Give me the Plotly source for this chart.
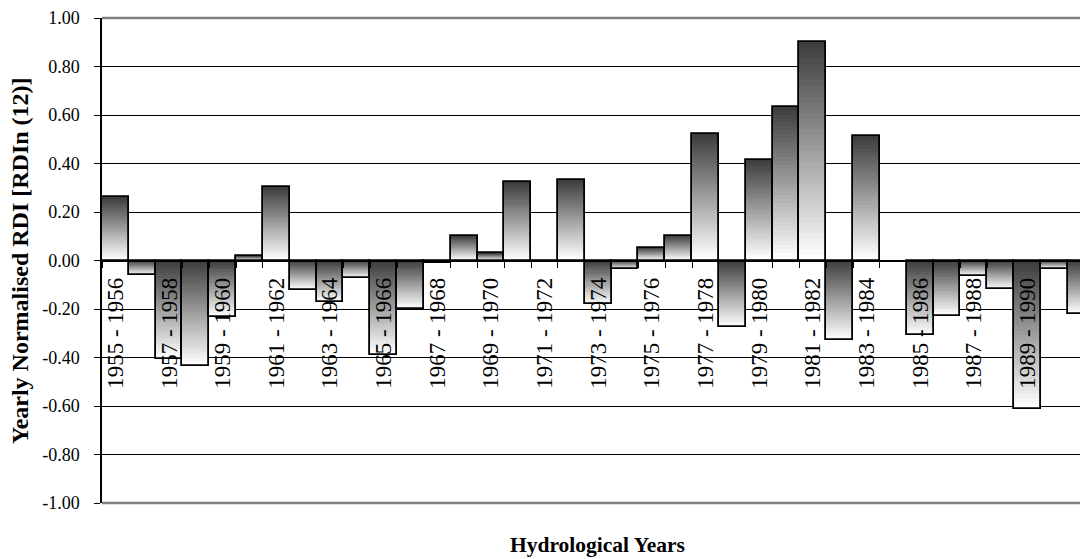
import plotly.graph_objects as go

years = ["1955 - 1956", "1956 - 1957", "1957 - 1958", "1958 - 1959", "1959 - 1960",
         "1960 - 1961", "1961 - 1962", "1962 - 1963", "1963 - 1964", "1964 - 1965",
         "1965 - 1966", "1966 - 1967", "1967 - 1968", "1968 - 1969", "1969 - 1970",
         "1970 - 1971", "1971 - 1972", "1972 - 1973", "1973 - 1974", "1974 - 1975",
         "1975 - 1976", "1976 - 1977", "1977 - 1978", "1978 - 1979", "1979 - 1980",
         "1980 - 1981", "1981 - 1982", "1982 - 1983", "1983 - 1984", "1984 - 1985",
         "1985 - 1986", "1986 - 1987", "1987 - 1988", "1988 - 1989", "1989 - 1990",
         "1990 - 1991", "1991 - 1992"]

rdin = [0.26, -0.06, -0.407, -0.435, -0.232, 0.018, 0.302, -0.12, -0.173, -0.074,
        -0.388, -0.20, -0.01, 0.10, 0.029, 0.324, -0.005, 0.334, -0.18, -0.036,
        0.052, 0.103, 0.52, -0.276, 0.415, 0.633, 0.901, -0.326, 0.513, None,
        -0.308, -0.228, -0.063, -0.118, -0.613, -0.033, -0.221]

y_ticks = [-1.0, -0.8, -0.6, -0.4, -0.2, 0.0, 0.2, 0.4, 0.6, 0.8, 1.0]
y_tick_text = ["-1.00", "-0.80", "-0.60", "-0.40", "-0.20", "0.00",
               "0.20", "0.40", "0.60", "0.80", "1.00"]

FONT = "Liberation Serif"
DARK = (62, 62, 62)
LIGHT = (255, 255, 255)
K = 40

xs = list(range(len(years)))
fig = go.Figure()

# gradient fill: nested bars, each shorter one covering the lower part with a lighter tone
for k in range(K):
    f = k / (K - 1)
    c = tuple(round(DARK[i] + (LIGHT[i] - DARK[i]) * f) for i in range(3))
    col = "rgb(%d,%d,%d)" % c
    bases, hs = [], []
    for v in rdin:
        if v is None:
            bases.append(None)
            hs.append(None)
            continue
        top, bot = max(v, 0), min(v, 0)
        bases.append(bot)
        hs.append((top - bot) * (1 - k / K))
    fig.add_trace(go.Bar(x=xs, y=hs, base=bases, marker=dict(color=col, line=dict(width=0)),
                         hoverinfo="skip", showlegend=False))

# outlines
fig.add_trace(go.Bar(x=xs, y=rdin, base=0,
                     marker=dict(color="rgba(0,0,0,0)", line=dict(color="black", width=1.8)),
                     showlegend=False))

OFF = 8  # page body margin
L, T, B = 101.5 - OFF, 17.5 - OFF, 56
W, H = 1088 - OFF, 559 - OFF
fig.update_layout(
    width=W, height=H,
    margin=dict(l=L, r=0, t=T, b=B, autoexpand=False),
    barmode="overlay", bargap=0,
    plot_bgcolor="white", paper_bgcolor="white",
    font=dict(family=FONT, color="black"),
    xaxis=dict(
        range=[-0.5, 36.26], anchor="free", position=0.5,
        showline=True, linecolor="black", linewidth=1,
        tickmode="array", tickvals=xs[::2], ticktext=years[::2],
        tickangle=-90, tickfont=dict(size=23, family=FONT, color="black"),
        ticks="", showgrid=False, zeroline=False,
        ticklabelstandoff=7,
        minor=dict(tick0=0.5, dtick=1, ticks="outside", ticklen=6, tickcolor="black",
                   tickwidth=1, showgrid=False),
    ),
    yaxis=dict(
        range=[-1, 1], tickmode="array", tickvals=y_ticks, ticktext=y_tick_text,
        showline=True, linecolor="black", linewidth=1.5,
        ticks="outside", ticklen=6, tickcolor="black", tickwidth=1,
        tickfont=dict(size=18, family=FONT, color="black"),
        showgrid=True, gridcolor="black", gridwidth=1, zeroline=False,
        ticklabelstandoff=11,
    ),
    shapes=[
        dict(type="line", xref="paper", yref="paper", x0=0, x1=1, y0=1, y1=1,
             line=dict(color="#808080", width=2.5), layer="above"),
        dict(type="line", xref="paper", yref="paper", x0=0, x1=1, y0=0, y1=0,
             line=dict(color="#808080", width=2.5), layer="above"),
    ],
    annotations=[
        dict(text="<b>Yearly Normalised RDI [RDIn (12)]</b>", xref="paper", yref="paper",
             x=-(L - (19 - OFF)) / (W - L), y=0.5, textangle=-90, showarrow=False,
             xanchor="center", yanchor="middle", font=dict(size=24, family=FONT, color="black")),
        dict(text="<b>Hydrological Years</b>", xref="paper", yref="paper",
             x=((597 - OFF) - L) / (W - L), y=-((545 - OFF) - (H - B)) / (H - T - B),
             showarrow=False, xanchor="center", yanchor="middle",
             font=dict(size=21.5, family=FONT, color="black")),
    ],
)

fig.write_html("out.html")
